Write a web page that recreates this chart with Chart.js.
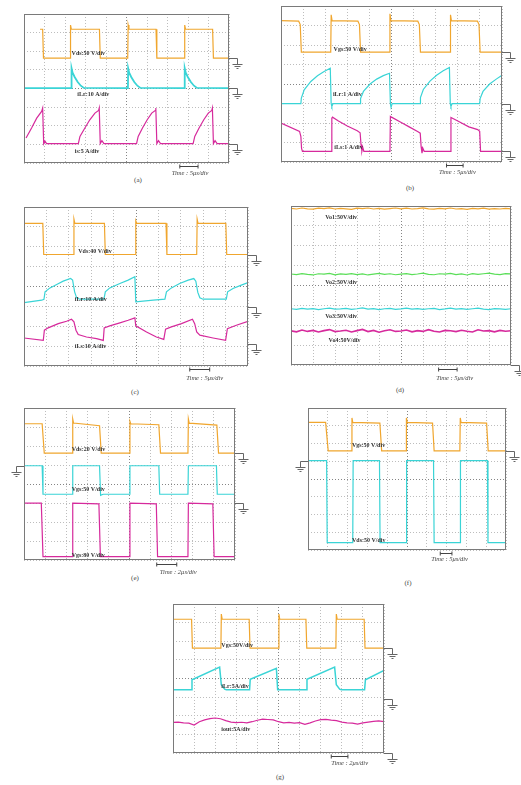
<!DOCTYPE html>
<html>
<head>
<meta charset="utf-8">
<script src="https://cdn.jsdelivr.net/npm/chart.js@4"></script>
<style>
body { margin: 0; background: #fff; width: 521px; height: 785px; position: relative; overflow: hidden; }
canvas { position: absolute; }
.cap { position: absolute; font: 7px "Liberation Serif", serif; color: #444; transform: translate(-50%, -50%); }
</style>
</head>
<body>
<div class="cap" style="left:138px;top:180px">(a)</div>
<div class="cap" style="left:410px;top:188px">(b)</div>
<div class="cap" style="left:135px;top:392px">(c)</div>
<div class="cap" style="left:400px;top:390px">(d)</div>
<div class="cap" style="left:135px;top:578px">(e)</div>
<div class="cap" style="left:408px;top:583px">(f)</div>
<div class="cap" style="left:280px;top:777px">(g)</div>
<script>
// all traces in divisions: time 0..10 div, amplitude 0..8 div (bottom = 0)

// (a)
var aVdsT = [0.78, 0.91, 0.95, 2.25, 2.27, 2.31, 3.68, 3.72, 5.06, 5.08, 5.12, 6.44, 6.48, 7.82, 7.84, 7.88, 9.20, 9.24, 10];
var aVdsV = [7.18, 7.18, 5.63, 5.63, 7.41, 7.18, 7.18, 5.63, 5.63, 7.41, 7.18, 7.18, 5.63, 5.63, 7.41, 7.18, 7.18, 5.63, 5.63];
var aILrT = [0, 2.31, 2.32, 2.37, 2.47, 2.62, 2.77, 2.92, 5.07, 5.08, 5.13, 5.23, 5.38, 5.53, 5.68, 7.83, 7.84, 7.89, 7.99, 8.14, 8.29, 8.44, 10];
var aILrV = [4.02, 4.02, 5.09, 4.85, 4.62, 4.35, 4.15, 4.03, 4.02, 5.09, 4.85, 4.62, 4.35, 4.15, 4.03, 4.02, 5.09, 4.85, 4.62, 4.35, 4.15, 4.03, 4.02];
var aIsT = [0.10, 0.37, 0.62, 0.86, 0.91, 0.96, 1.02, 1.10, 2.65, 2.73, 2.97, 3.21, 3.46, 3.64, 3.67, 3.72, 3.80, 3.90, 5.49, 5.57, 5.78, 6.01, 6.23, 6.40, 6.43, 6.48, 6.56, 6.66, 8.25, 8.33, 8.54, 8.77, 8.99, 9.16, 9.19, 9.24, 9.32, 9.42, 10];
var aIsV = [1.34, 1.88, 2.41, 2.77, 2.95, 1.04, 1.18, 1.04, 1.04, 1.43, 1.88, 2.32, 2.68, 2.82, 2.95, 1.04, 1.20, 1.04, 1.04, 1.43, 1.88, 2.32, 2.68, 2.82, 2.95, 1.04, 1.20, 1.04, 1.04, 1.43, 1.88, 2.32, 2.68, 2.82, 2.95, 1.04, 1.20, 1.04, 1.04];

// (b)
var bVgsT = [0, 0.80, 0.87, 0.92, 2.25, 2.27, 2.31, 3.48, 3.55, 3.60, 4.91, 4.93, 4.97, 6.19, 6.26, 6.31, 7.65, 7.67, 7.71, 8.89, 8.96, 9.01, 10];
var bVgsV = [7.25, 7.22, 7.05, 5.63, 5.63, 7.55, 7.25, 7.22, 7.05, 5.63, 5.63, 7.60, 7.25, 7.22, 7.05, 5.63, 5.63, 7.55, 7.25, 7.22, 7.05, 5.63, 5.63];
var bILrT = [0, 0.90, 0.92, 1.05, 1.35, 1.65, 1.95, 2.23, 2.27, 2.30, 2.35, 3.58, 3.60, 3.73, 4.03, 4.33, 4.63, 4.91, 4.95, 4.98, 5.03, 6.29, 6.31, 6.44, 6.74, 7.04, 7.34, 7.62, 7.66, 7.69, 7.74, 8.99, 9.01, 9.14, 9.44, 9.74, 10];
var bILrV = [2.99, 2.99, 3.28, 3.70, 4.13, 4.42, 4.64, 4.81, 2.99, 2.85, 2.99, 2.99, 3.25, 3.62, 4.00, 4.25, 4.43, 4.55, 2.99, 2.80, 2.99, 2.99, 3.30, 3.72, 4.15, 4.45, 4.68, 4.85, 2.99, 2.85, 2.99, 2.99, 3.25, 3.62, 4.00, 4.25, 4.45];
var bILsT = [0, 0.84, 0.90, 0.93, 0.97, 2.29, 2.30, 2.33, 2.60, 3.00, 3.45, 3.58, 3.62, 3.66, 3.70, 3.75, 4.93, 4.95, 5.00, 5.40, 5.80, 6.20, 6.30, 6.34, 6.38, 6.42, 6.48, 7.67, 7.69, 8.00, 8.50, 8.90, 8.99, 9.03, 10];
var bILsV = [2.00, 1.57, 1.30, 0.70, 0.55, 0.55, 2.25, 2.30, 2.10, 1.85, 1.60, 1.50, 0.90, 0.55, 0.75, 0.55, 0.55, 2.34, 2.30, 2.05, 1.80, 1.55, 1.48, 0.80, 0.45, 0.70, 0.55, 0.55, 2.28, 2.10, 1.80, 1.66, 1.57, 0.55, 0.55];

// (c)
var cVdsT = [0, 0.84, 0.88, 2.21, 2.23, 2.27, 3.59, 3.63, 4.97, 4.99, 5.03, 6.34, 6.38, 7.71, 7.73, 7.77, 9.01, 9.05, 10];
var cVdsV = [7.18, 7.18, 5.61, 5.61, 7.39, 7.18, 7.18, 5.61, 5.61, 7.30, 7.18, 7.18, 5.61, 5.61, 7.39, 7.18, 7.18, 5.61, 5.61];
var cILrT = [0, 0.79, 0.89, 0.94, 1.16, 1.46, 1.75, 2.08, 2.17, 2.26, 2.35, 2.50, 3.57, 3.63, 3.83, 4.28, 4.65, 4.95, 4.99, 5.77, 6.29, 6.36, 6.58, 6.95, 7.33, 7.58, 7.67, 7.76, 7.85, 7.99, 9.03, 9.09, 9.33, 9.70, 10];
var cILrV = [3.19, 3.31, 3.36, 3.73, 3.93, 4.10, 4.27, 4.40, 4.32, 3.73, 3.43, 3.36, 3.36, 3.73, 3.93, 4.15, 4.32, 4.49, 3.23, 3.31, 3.36, 3.73, 3.93, 4.15, 4.32, 4.40, 4.27, 3.70, 3.43, 3.36, 3.36, 3.73, 3.90, 4.07, 4.20];
var cILsT = [0, 0.86, 0.91, 1.08, 1.53, 1.90, 2.12, 2.23, 2.32, 2.42, 2.79, 3.24, 3.54, 3.58, 3.83, 4.28, 4.65, 4.95, 4.99, 5.47, 5.91, 6.24, 6.32, 6.58, 7.03, 7.52, 7.62, 7.71, 7.85, 8.44, 9.00, 9.08, 9.48, 10];
var cILsV = [1.41, 1.29, 1.80, 1.92, 2.13, 2.25, 2.35, 2.22, 1.80, 1.58, 1.46, 1.38, 1.29, 1.92, 2.02, 2.17, 2.30, 2.42, 2.02, 1.71, 1.46, 1.34, 1.85, 1.97, 2.13, 2.35, 2.13, 1.71, 1.55, 1.41, 1.29, 1.88, 2.05, 2.25];

// (d) and (g) noisy traces share one time base
var fineT = [0, 0.25, 0.5, 0.75, 1, 1.25, 1.5, 1.75, 2, 2.25, 2.5, 2.75, 3, 3.25, 3.5, 3.75, 4, 4.25, 4.5, 4.75, 5, 5.25, 5.5, 5.75, 6, 6.25, 6.5, 6.75, 7, 7.25, 7.5, 7.75, 8, 8.25, 8.5, 8.75, 9, 9.25, 9.5, 9.75, 10];
var dVo1V = [7.88, 7.85, 7.90, 7.86, 7.84, 7.89, 7.87, 7.91, 7.85, 7.88, 7.86, 7.83, 7.89, 7.87, 7.90, 7.85, 7.88, 7.84, 7.87, 7.90, 7.86, 7.89, 7.85, 7.87, 7.91, 7.86, 7.84, 7.88, 7.86, 7.90, 7.85, 7.87, 7.83, 7.88, 7.86, 7.89, 7.84, 7.87, 7.85, 7.88, 7.86];
var dVo2V = [4.58, 4.55, 4.60, 4.56, 4.53, 4.59, 4.57, 4.61, 4.54, 4.58, 4.56, 4.60, 4.55, 4.58, 4.53, 4.57, 4.61, 4.56, 4.59, 4.54, 4.57, 4.60, 4.55, 4.58, 4.62, 4.56, 4.54, 4.59, 4.57, 4.61, 4.55, 4.58, 4.53, 4.60, 4.56, 4.59, 4.62, 4.57, 4.55, 4.60, 4.58];
var dVo3V = [2.83, 2.80, 2.85, 2.81, 2.84, 2.79, 2.83, 2.86, 2.81, 2.82, 2.85, 2.80, 2.83, 2.87, 2.81, 2.84, 2.79, 2.83, 2.85, 2.80, 2.82, 2.86, 2.81, 2.84, 2.80, 2.83, 2.85, 2.79, 2.82, 2.86, 2.81, 2.84, 2.80, 2.83, 2.86, 2.81, 2.79, 2.84, 2.82, 2.80, 2.83];
var dVo4V = [1.72, 1.67, 1.76, 1.69, 1.74, 1.66, 1.73, 1.78, 1.68, 1.71, 1.75, 1.66, 1.73, 1.79, 1.68, 1.74, 1.65, 1.72, 1.77, 1.69, 1.71, 1.76, 1.67, 1.73, 1.69, 1.78, 1.70, 1.66, 1.74, 1.72, 1.68, 1.75, 1.70, 1.66, 1.77, 1.71, 1.73, 1.67, 1.74, 1.70, 1.72];

// (e)
var eVdsT = [0, 0.86, 0.96, 2.29, 2.31, 2.35, 3.58, 3.66, 5.00, 5.02, 5.06, 6.39, 6.47, 7.77, 7.79, 7.83, 9.14, 9.22, 10];
var eVdsV = [7.17, 7.17, 5.62, 5.62, 7.42, 7.21, 7.07, 5.62, 5.62, 7.30, 7.17, 7.12, 5.62, 5.62, 7.42, 7.20, 7.10, 5.62, 5.62];
var eVg1T = [0, 0.86, 0.90, 2.29, 2.31, 3.58, 3.63, 3.75, 5.00, 5.02, 6.39, 6.43, 7.77, 7.79, 9.12, 9.16, 10];
var eVg1V = [4.96, 4.96, 3.46, 3.46, 4.96, 4.96, 3.40, 3.46, 3.46, 4.96, 4.96, 3.46, 3.46, 4.96, 4.96, 3.46, 3.46];
var eVg2T = [0, 0.82, 0.90, 2.29, 2.31, 3.55, 3.62, 5.00, 5.02, 6.27, 6.33, 7.77, 7.79, 8.95, 9.01, 10];
var eVg2V = [2.99, 2.99, 0.18, 0.18, 2.99, 2.95, 0.18, 0.18, 2.99, 2.95, 0.18, 0.18, 2.99, 2.95, 0.18, 0.18];

// (f)
var fVgsT = [0, 0.89, 1.02, 2.20, 2.22, 2.26, 3.63, 3.72, 4.95, 4.97, 5.01, 6.29, 6.37, 7.67, 7.69, 7.73, 9.02, 9.10, 10];
var fVgsV = [7.19, 7.19, 5.59, 5.59, 7.44, 7.19, 7.15, 5.59, 5.59, 7.44, 7.19, 7.15, 5.59, 5.59, 7.44, 7.19, 7.15, 5.59, 5.59];
var fVdsT = [0, 0.94, 0.97, 2.26, 2.28, 3.61, 3.64, 4.96, 4.98, 6.34, 6.37, 7.68, 7.70, 9.06, 9.09, 10];
var fVdsV = [5.03, 5.03, 0.41, 0.41, 5.03, 5.03, 0.41, 0.41, 5.03, 5.03, 0.41, 0.41, 5.03, 5.03, 0.41, 0.41];

// (g)
var gVgsT = [0, 0.88, 0.92, 2.27, 2.29, 2.33, 3.61, 3.65, 5.00, 5.02, 5.06, 6.30, 6.34, 7.72, 7.74, 7.78, 9.06, 9.10, 10];
var gVgsV = [7.18, 7.18, 5.63, 5.63, 7.46, 7.18, 7.18, 5.63, 5.63, 7.46, 7.18, 7.18, 5.63, 5.63, 7.46, 7.18, 7.18, 5.63, 5.63];
var gILrT = [0, 0.87, 0.90, 2.21, 2.29, 2.45, 2.53, 3.63, 3.66, 4.90, 4.96, 6.32, 6.35, 7.66, 7.74, 7.90, 7.98, 9.08, 9.12, 10];
var gILrV = [3.39, 3.39, 3.93, 4.61, 3.66, 3.43, 3.39, 3.39, 3.96, 4.55, 3.39, 3.39, 3.96, 4.61, 3.66, 3.43, 3.39, 3.39, 3.93, 4.43];
var gIoutV = [1.64, 1.66, 1.62, 1.60, 1.50, 1.68, 1.78, 1.85, 1.88, 1.84, 1.74, 1.66, 1.63, 1.65, 1.62, 1.68, 1.76, 1.82, 1.80, 1.78, 1.68, 1.62, 1.64, 1.60, 1.63, 1.54, 1.62, 1.72, 1.79, 1.81, 1.77, 1.74, 1.66, 1.62, 1.60, 1.55, 1.62, 1.66, 1.70, 1.72, 1.68];

var YEL = '#f0a62e', CYA = '#3ad4d6', MAG = '#d62a9c', GRN = '#5ade58';

// frame, ground marks, channel text and time-base marker
var scopeDeco = {
	id: 'scopeDeco',
	afterDatasetsDraw: function (chart, args, opts) {
		var ctx = chart.ctx, a = chart.chartArea, x = chart.scales.x, y = chart.scales.y;
		ctx.save();
		ctx.strokeStyle = '#7a7a7a';
		ctx.lineWidth = 1;
		ctx.strokeRect(Math.round(a.left) + 0.5, Math.round(a.top) + 0.5, Math.round(a.right - a.left) - 1, Math.round(a.bottom - a.top) - 1);

		ctx.font = 'bold 6px "Liberation Serif"';
		ctx.textBaseline = 'middle';
		ctx.fillStyle = '#333';
		(opts.labels || []).forEach(function (l) {
			ctx.fillText(l.text, x.getPixelForValue(l.x), y.getPixelForValue(l.y));
		});

		ctx.strokeStyle = '#666';
		(opts.grounds || []).forEach(function (g) {
			var s = g.side === 'l' ? -1 : 1;
			var px = (s > 0 ? a.right : a.left);
			var py = Math.round(y.getPixelForValue(g.y)) + 0.5;
			var gx = Math.round(px + s * 8) + 0.5;
			ctx.beginPath();
			ctx.moveTo(px, py); ctx.lineTo(gx, py); ctx.lineTo(gx, py + 6);
			ctx.moveTo(gx - 5, py + 6); ctx.lineTo(gx + 5, py + 6);
			ctx.moveTo(gx - 3, py + 8); ctx.lineTo(gx + 3, py + 8);
			ctx.moveTo(gx - 1, py + 10); ctx.lineTo(gx + 1, py + 10);
			ctx.stroke();
		});

		var t = opts.time;
		if (t) {
			var ay = Math.round(a.bottom + t.ay) + 0.5;
			var x0 = x.getPixelForValue(t.a0), x1 = x.getPixelForValue(t.a1);
			ctx.strokeStyle = '#444';
			ctx.beginPath();
			ctx.moveTo(x0, ay); ctx.lineTo(x1, ay);
			ctx.moveTo(x0, ay - 2); ctx.lineTo(x0, ay + 2);
			ctx.moveTo(x1, ay - 2); ctx.lineTo(x1, ay + 2);
			ctx.stroke();
			ctx.font = 'italic 6.5px "Liberation Serif"';
			ctx.textAlign = 'center';
			ctx.fillStyle = '#444';
			ctx.fillText(t.text, x.getPixelForValue(t.tx), a.bottom + t.ty);
		}
		ctx.restore();
	}
};

function trace(t, v, color, width) {
	return {
		data: t.map(function (tt, i) { return { x: tt, y: v[i] }; }),
		borderColor: color,
		borderWidth: width || 1.2,
		pointRadius: 0,
		tension: 0,
		fill: false
	};
}

function makePanel(p) {
	var padL = 22, padR = 24, padT = 4, padB = 24;
	var cv = document.createElement('canvas');
	cv.width = p.w + padL + padR;
	cv.height = p.h + padT + padB;
	cv.style.left = (p.x - padL) + 'px';
	cv.style.top = (p.y - padT) + 'px';
	document.body.appendChild(cv);
	var gridColor = function (mid) {
		return function (c) { return c.tick && c.tick.value === mid ? '#858585' : '#bdbdbd'; };
	};
	return new Chart(cv.getContext('2d'), {
		type: 'line',
		data: { datasets: p.traces },
		options: {
			responsive: false,
			animation: false,
			events: [],
			layout: { padding: { left: padL, right: padR, top: padT, bottom: padB } },
			plugins: { legend: { display: false }, tooltip: { enabled: false }, scopeDeco: p.deco },
			scales: {
				x: { type: 'linear', min: 0, max: 10, ticks: { display: false, stepSize: 1 },
					grid: { drawTicks: false, color: gridColor(5) }, border: { display: false, dash: [1, 2] } },
				y: { type: 'linear', min: 0, max: 8, ticks: { display: false, stepSize: 1 },
					grid: { drawTicks: false, color: gridColor(4) }, border: { display: false, dash: [1, 2] } }
			}
		},
		plugins: [scopeDeco]
	});
}

// (a)
makePanel({
	x: 24, y: 14, w: 205, h: 149,
	traces: [trace(aVdsT, aVdsV, YEL), trace(aILrT, aILrV, CYA, 1.8), trace(aIsT, aIsV, MAG)],
	deco: {
		labels: [{ text: 'Vds:50 V/div', x: 2.32, y: 5.89 }, { text: 'iLr:10 A/div', x: 2.60, y: 3.70 }, { text: 'is:5 A/div', x: 2.48, y: 0.63 }],
		grounds: [{ y: 5.63 }, { y: 4.02 }, { y: 1.04 }],
		time: { text: 'Time : 5μs/div', a0: 7.60, a1: 8.49, tx: 8.1, ay: 3, ty: 10 }
	}
});

// (b)
makePanel({
	x: 281, y: 6, w: 221, h: 156,
	traces: [trace(bVgsT, bVgsV, YEL), trace(bILrT, bILrV, CYA), trace(bILsT, bILsV, MAG)],
	deco: {
		labels: [{ text: 'Vgs:50 V/div', x: 2.38, y: 5.79 }, { text: 'iLr:1 A/div', x: 2.35, y: 3.45 }, { text: 'iLs:1 A/div', x: 2.41, y: 0.75 }],
		grounds: [{ y: 5.63 }, { y: 2.99 }, { y: 0.55 }],
		time: { text: 'Time : 5μs/div', a0: 7.49, a1: 8.24, tx: 7.98, ay: 3, ty: 10 }
	}
});

// (c)
makePanel({
	x: 24, y: 207, w: 224, h: 159,
	traces: [trace(cVdsT, cVdsV, YEL), trace(cILrT, cILrV, CYA), trace(cILsT, cILsV, MAG)],
	deco: {
		labels: [{ text: 'Vds:40 V/div', x: 2.42, y: 5.75 }, { text: 'iLr:10 A/div', x: 2.27, y: 3.34 }, { text: 'iLs:10 A/div', x: 2.27, y: 0.96 }],
		grounds: [{ y: 5.61 }, { y: 2.95 }, { y: 1.10 }],
		time: { text: 'Time : 5μs/div', a0: 7.40, a1: 8.29, tx: 8.07, ay: 3, ty: 12 }
	}
});

// (d)
makePanel({
	x: 291, y: 206, w: 220, h: 159,
	traces: [trace(fineT, dVo1V, YEL), trace(fineT, dVo2V, GRN), trace(fineT, dVo3V, CYA), trace(fineT, dVo4V, MAG, 1.6)],
	deco: {
		labels: [{ text: 'Vo1:50V/div', x: 1.56, y: 7.43 }, { text: 'Vo2:50V/div', x: 1.56, y: 4.17 }, { text: 'Vo3:50V/div', x: 1.56, y: 2.44 }, { text: 'Vo4:50V/div', x: 1.71, y: 1.23 }],
		grounds: [{ y: 0 }],
		time: { text: 'Time : 5μs/div', a0: 6.71, a1: 7.55, tx: 7.44, ay: 4, ty: 13 }
	}
});

// (e)
makePanel({
	x: 24, y: 408, w: 211, h: 152,
	traces: [trace(eVdsT, eVdsV, YEL), trace(eVg1T, eVg1V, CYA), trace(eVg2T, eVg2V, MAG)],
	deco: {
		labels: [{ text: 'Vds:20 V/div', x: 2.26, y: 5.80 }, { text: 'Vgs:50 V/div', x: 2.26, y: 3.69 }, { text: 'Vgs:80 V/div', x: 2.26, y: 0.26 }],
		grounds: [{ y: 5.62 }, { y: 4.96, side: 'l' }, { y: 2.99 }],
		time: { text: 'Time : 2μs/div', a0: 6.29, a1: 7.24, tx: 7.31, ay: 4, ty: 12 }
	}
});

// (f)
makePanel({
	x: 308, y: 408, w: 198, h: 142,
	traces: [trace(fVgsT, fVgsV, YEL), trace(fVdsT, fVdsV, CYA)],
	deco: {
		labels: [{ text: 'Vgs:50 V/div', x: 2.22, y: 5.87 }, { text: 'Vds:50 V/div', x: 2.22, y: 0.56 }],
		grounds: [{ y: 5.59 }, { y: 5.03, side: 'l' }],
		time: { text: 'Time : 5μs/div', a0: 6.68, a1: 7.27, tx: 7.15, ay: 3, ty: 9 }
	}
});

// (g)
makePanel({
	x: 173, y: 604, w: 211, h: 149,
	traces: [trace(gVgsT, gVgsV, YEL), trace(gILrT, gILrV, CYA, 1.5), trace(fineT, gIoutV, MAG)],
	deco: {
		labels: [{ text: 'Vgs:50V/div', x: 2.29, y: 5.80 }, { text: 'iLr:5A/div', x: 2.29, y: 3.57 }, { text: 'iout:5A/div', x: 2.29, y: 1.25 }],
		grounds: [{ y: 5.63 }, { y: 2.90 }, { y: 0 }],
		time: { text: 'Time : 2μs/div', a0: 7.50, a1: 8.29, tx: 8.37, ay: 3, ty: 10 }
	}
});
</script>
</body>
</html>
